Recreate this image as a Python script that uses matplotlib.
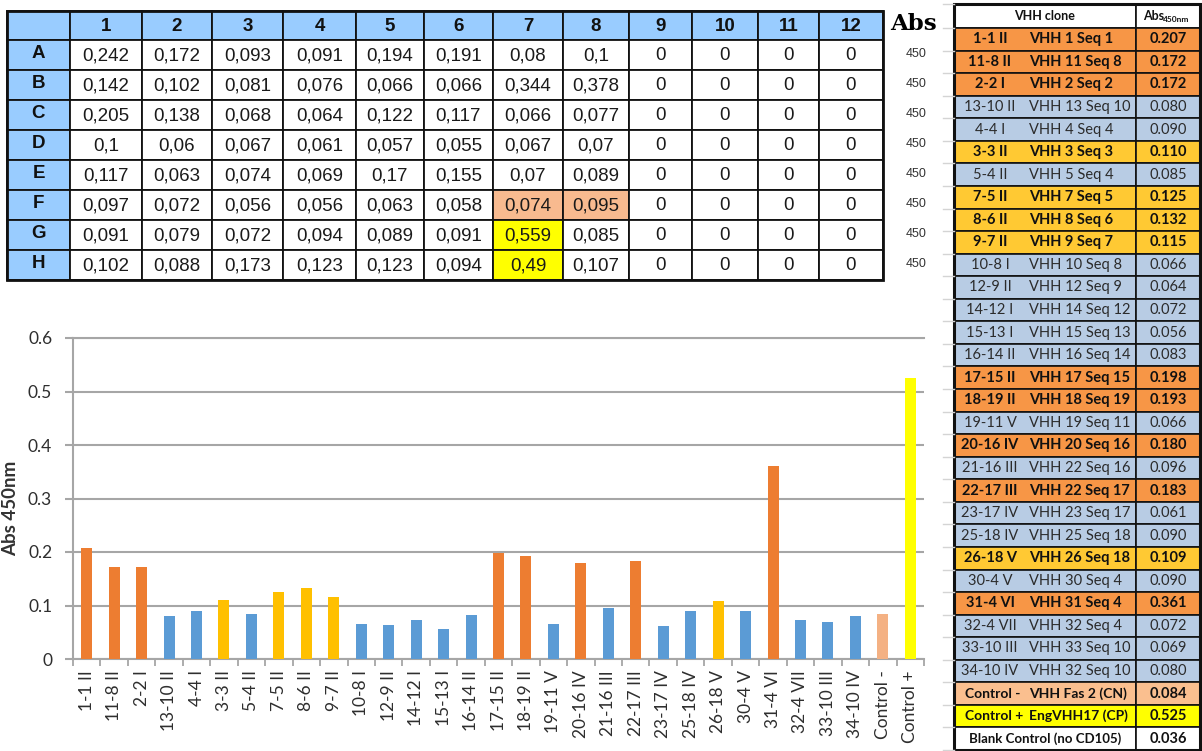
import matplotlib
matplotlib.use("Agg")
import matplotlib.pyplot as plt
from matplotlib.patches import Rectangle
import numpy as np

# ELISA plate readings (rows A-H, columns 1-12)
plate_rows = ['A', 'B', 'C', 'D', 'E', 'F', 'G', 'H']
plate_cols = ['1', '2', '3', '4', '5', '6', '7', '8', '9', '10', '11', '12']
row_a = [0.242, 0.172, 0.093, 0.091, 0.194, 0.191, 0.08, 0.1, 0, 0, 0, 0]
row_b = [0.142, 0.102, 0.081, 0.076, 0.066, 0.066, 0.344, 0.378, 0, 0, 0, 0]
row_c = [0.205, 0.138, 0.068, 0.064, 0.122, 0.117, 0.066, 0.077, 0, 0, 0, 0]
row_d = [0.1, 0.06, 0.067, 0.061, 0.057, 0.055, 0.067, 0.07, 0, 0, 0, 0]
row_e = [0.117, 0.063, 0.074, 0.069, 0.17, 0.155, 0.07, 0.089, 0, 0, 0, 0]
row_f = [0.097, 0.072, 0.056, 0.056, 0.063, 0.058, 0.074, 0.095, 0, 0, 0, 0]
row_g = [0.091, 0.079, 0.072, 0.094, 0.089, 0.091, 0.559, 0.085, 0, 0, 0, 0]
row_h = [0.102, 0.088, 0.173, 0.123, 0.123, 0.094, 0.49, 0.107, 0, 0, 0, 0]
plate = [row_a, row_b, row_c, row_d, row_e, row_f, row_g, row_h]
neg_wells = [('F', '7'), ('F', '8')]
pos_wells = [('G', '7'), ('H', '7')]

# clone summary
clones = ['1-1 II', '11-8 II', '2-2 I', '13-10 II', '4-4 I', '3-3 II', '5-4 II',
          '7-5 II', '8-6 II', '9-7 II', '10-8 I', '12-9 II', '14-12 I', '15-13 I',
          '16-14 II', '17-15 II', '18-19 II', '19-11 V', '20-16 IV', '21-16 III',
          '22-17 III', '23-17 IV', '25-18 IV', '26-18 V', '30-4 V', '31-4 VI',
          '32-4 VII', '33-10 III', '34-10 IV']
seqs = ['VHH 1 Seq 1', 'VHH 11 Seq 8', 'VHH 2 Seq 2', 'VHH 13 Seq 10', 'VHH 4 Seq 4',
        'VHH 3 Seq 3', 'VHH 5 Seq 4', 'VHH 7 Seq 5', 'VHH 8 Seq 6', 'VHH 9 Seq 7',
        'VHH 10 Seq 8', 'VHH 12 Seq 9', 'VHH 14 Seq 12', 'VHH 15 Seq 13',
        'VHH 16 Seq 14', 'VHH 17 Seq 15', 'VHH 18 Seq 19', 'VHH 19 Seq 11',
        'VHH 20 Seq 16', 'VHH 22 Seq 16', 'VHH 22 Seq 17', 'VHH 23 Seq 17',
        'VHH 25 Seq 18', 'VHH 26 Seq 18', 'VHH 30 Seq 4', 'VHH 31 Seq 4',
        'VHH 32 Seq 4', 'VHH 33 Seq 10', 'VHH 32 Seq 10']
abs450 = [0.207, 0.172, 0.172, 0.080, 0.090, 0.110, 0.085, 0.125, 0.132, 0.115,
          0.066, 0.064, 0.072, 0.056, 0.083, 0.198, 0.193, 0.066, 0.180, 0.096,
          0.183, 0.061, 0.090, 0.109, 0.090, 0.361, 0.072, 0.069, 0.080]
level = ['high', 'high', 'high', 'low', 'low', 'mid', 'low', 'mid', 'mid', 'mid',
         'low', 'low', 'low', 'low', 'low', 'high', 'high', 'low', 'high', 'low',
         'high', 'low', 'low', 'mid', 'low', 'high', 'low', 'low', 'low']

ctrl_names = ['Control -', 'Control +']
ctrl_desc = ['VHH Fas 2 (CN)', 'EngVHH17 (CP)']
ctrl_abs = [0.084, 0.525]
blank_name = 'Blank Control (no CD105)'
blank_abs = 0.036

bar_colors = {'high': '#ED7D31', 'mid': '#FFC000', 'low': '#5B9BD5'}
cell_colors = {'high': '#F79646', 'mid': '#FFC933', 'low': '#B8CCE4'}
ctrl_bar_colors = ['#F4B183', '#FFFF00']
ctrl_cell_colors = ['#FABF8F', '#FFFF00']

fig = plt.figure(figsize=(12.02, 7.51), dpi=100)
bg = fig.add_axes([0, 0, 1, 1])
bg.set_xlim(0, 1202)
bg.set_ylim(751, 0)
bg.axis('off')

# ---- plate table ----
col_edges = [7, 70, 142, 212, 283, 356, 424, 493, 563, 629, 692, 758, 819, 883]
row_edges = [11, 40, 70, 100, 130, 160, 190, 220, 250, 280]
head_blue = '#99CCFF'
arial = 'Liberation Sans'


def cell(x0, x1, y0, y1, fc, lw=1.3):
    bg.add_patch(Rectangle((x0, y0), x1 - x0, y1 - y0, facecolor=fc,
                           edgecolor='#111111', lw=lw))


cell(col_edges[0], col_edges[1], row_edges[0], row_edges[1], head_blue)
for j, c in enumerate(plate_cols):
    x0, x1 = col_edges[j + 1], col_edges[j + 2]
    cell(x0, x1, row_edges[0], row_edges[1], head_blue)
    bg.text((x0 + x1) / 2, (row_edges[0] + row_edges[1]) / 2 + 1, c, ha='center',
            va='center', fontsize=13.5, fontweight='bold', family=arial, color='#111111')
for i, r in enumerate(plate_rows):
    y0, y1 = row_edges[i + 1], row_edges[i + 2]
    cell(col_edges[0], col_edges[1], y0, y1, head_blue)
    bg.text((col_edges[0] + col_edges[1]) / 2, (y0 + y1) / 2 - 1, r, ha='center',
            va='center', fontsize=13.5, fontweight='bold', family=arial, color='#111111')
    for j, c in enumerate(plate_cols):
        x0, x1 = col_edges[j + 1], col_edges[j + 2]
        fc = 'white'
        if (r, c) in neg_wells:
            fc = '#F8BA8F'
        elif (r, c) in pos_wells:
            fc = '#FFFF00'
        cell(x0, x1, y0, y1, fc)
        txt = f"{plate[i][j]:g}".replace('.', ',')
        bg.text((x0 + x1) / 2, (y0 + y1) / 2 + 1, txt, ha='center', va='center',
                fontsize=13.5, family=arial, color='#1a1a1a')
    bg.text(916, (y0 + y1) / 2 - 1, '450', ha='center', va='center', fontsize=9,
            family=arial, color='#333333')
bg.add_patch(Rectangle((col_edges[0], row_edges[0]), col_edges[-1] - col_edges[0],
                       row_edges[-1] - row_edges[0], fill=False, edgecolor='#111111', lw=2))
bg.text(913, 24, 'Abs', ha='center', va='center', fontsize=16.5, fontweight='bold',
        family='DejaVu Serif', color='black')

# ---- clone summary table ----
tx0, tx1, tx2 = 954, 1136, 1200
top, head_bot, bot = 4, 28, 750
n_rows = len(clones) + len(ctrl_names) + 1
rh = (bot - head_bot) / n_rows
cal = 'Lato'

# faint sheet gridlines left of the table
for k in range(n_rows + 1):
    yy = head_bot + k * rh
    bg.plot([943, tx0], [yy, yy], color='#d4d4d4', lw=1)
bg.plot([943, tx0], [top, top], color='#d4d4d4', lw=1)

bg.add_patch(Rectangle((tx0, top), tx1 - tx0, head_bot - top, facecolor='white',
                       edgecolor='#111111', lw=1.2))
bg.add_patch(Rectangle((tx1, top), tx2 - tx1, head_bot - top, facecolor='white',
                       edgecolor='#111111', lw=1.2))
bg.text((tx0 + tx1) / 2, (top + head_bot) / 2, 'VHH clone', ha='center', va='center',
        fontsize=9, fontweight='bold', family=cal, color='#111111')
bg.text(1143, (top + head_bot) / 2, 'Abs', ha='left', va='center', fontsize=9,
        fontweight='bold', family=cal, color='#111111')
bg.text(1163, (top + head_bot) / 2 + 4, '450nm', ha='left', va='center', fontsize=6,
        fontweight='bold', family=cal, color='#111111')


def summary_row(k, fc, bold):
    y0 = head_bot + k * rh
    bg.add_patch(Rectangle((tx0, y0), tx1 - tx0, rh, facecolor=fc, edgecolor='#111111', lw=1.2))
    bg.add_patch(Rectangle((tx1, y0), tx2 - tx1, rh, facecolor=fc, edgecolor='#111111', lw=1.2))
    return y0 + rh / 2, ('bold' if bold else 'normal'), ('#111111' if bold else '#2b2b2b')


for k, (cl, sq, v, lv) in enumerate(zip(clones, seqs, abs450, level)):
    yc, fw, tc = summary_row(k, cell_colors[lv], lv != 'low')
    bg.text(990, yc, cl, ha='center', va='center', fontsize=10.5, fontweight=fw,
            family=cal, color=tc)
    bg.text(1029, yc, sq, ha='left', va='center', fontsize=10.5, fontweight=fw,
            family=cal, color=tc)
    bg.text(1168, yc, f"{v:.3f}", ha='center', va='center', fontsize=10.5,
            fontweight=fw, family=cal, color=tc)

for m, (cn, cd, v) in enumerate(zip(ctrl_names, ctrl_desc, ctrl_abs)):
    yc, fw, tc = summary_row(len(clones) + m, ctrl_cell_colors[m], True)
    bg.text(965, yc, cn, ha='left', va='center', fontsize=10, fontweight=fw,
            family=cal, color=tc)
    bg.text(1029, yc, cd, ha='left', va='center', fontsize=10, fontweight=fw,
            family=cal, color=tc)
    bg.text(1168, yc, f"{v:.3f}", ha='center', va='center', fontsize=10.5,
            fontweight=fw, family=cal, color=tc)

yc, fw, tc = summary_row(n_rows - 1, 'white', True)
bg.text((tx0 + tx1) / 2, yc, blank_name, ha='center', va='center', fontsize=9.5,
        fontweight='bold', family=cal, color=tc)
bg.text(1168, yc, f"{blank_abs:.3f}", ha='center', va='center', fontsize=10.5,
        fontweight='bold', family=cal, color=tc)
bg.add_patch(Rectangle((tx0, top), tx2 - tx0, bot - top, fill=False,
                       edgecolor='#111111', lw=2.2))

# ---- bar chart ----
labels = clones + ctrl_names
values = abs450 + ctrl_abs
colors = [bar_colors[lv] for lv in level] + ctrl_bar_colors
x = np.arange(len(labels))

ax = fig.add_axes([73 / 1202, (751 - 659) / 751, 851 / 1202, (659 - 338) / 751])
ax.bar(x, values, width=0.4, color=colors, zorder=3)
ax.set_xlim(-0.5, len(labels) - 0.5)
ax.set_ylim(0, 0.6)
grid_c = '#a6a6a6'
ax.set_yticks(np.arange(0, 0.61, 0.1))
ax.set_yticklabels(['0', '0.1', '0.2', '0.3', '0.4', '0.5', '0.6'])
ax.yaxis.grid(True, color=grid_c, lw=1.5, zorder=0)
ax.set_xticks(x)
ax.set_xticklabels(labels, rotation=90, ha='center', va='top')
ax.set_xticks(np.arange(-0.5, len(labels), 1), minor=True)
ax.tick_params(axis='x', which='major', length=0, pad=8)
ax.tick_params(axis='x', which='minor', length=5, width=1.3, color=grid_c)
ax.tick_params(axis='y', length=6, width=1.5, color=grid_c, pad=9)
for t in ax.get_xticklabels() + ax.get_yticklabels():
    t.set_family(cal)
    t.set_fontsize(12.5)
    t.set_color('#2e2e2e')
for s in ['left', 'bottom', 'top']:
    ax.spines[s].set_color(grid_c)
    ax.spines[s].set_linewidth(1.5)
ax.spines['right'].set_visible(False)
fig.text(11 / 1202, 1 - 508 / 751, 'Abs 450nm', rotation=90, ha='center', va='center',
         fontsize=13.5, fontweight='bold', family=cal, color='#333333')

fig.savefig('out.png', dpi=100)
